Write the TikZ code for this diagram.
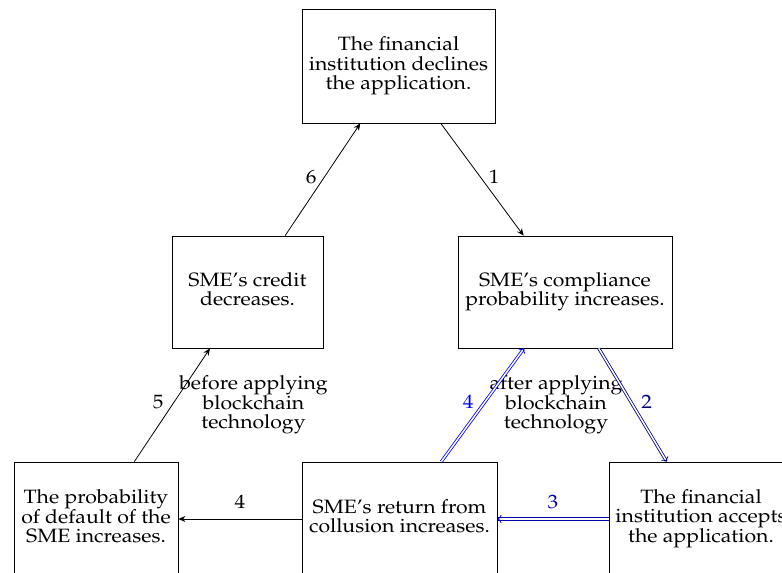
\documentclass[tikz,border=0pt]{standalone}
\usepackage[T1]{fontenc}
\usepackage{mathpazo}
\usepackage{graphicx}
\usetikzlibrary{arrows.meta}
\newcommand{\mytxt}[1]{\scalebox{1.1}[1]{\begin{tabular}{@{}c@{}}#1\end{tabular}}}
\begin{document}
\begin{tikzpicture}[x=1pt,y=-1pt,
  box/.style={draw, line width=0.8pt, inner sep=0pt, font=\fontsize{19.3}{19.3}\selectfont},
  note/.style={inner sep=0pt, font=\fontsize{19.3}{19.3}\selectfont},
  arr/.style={-{Stealth[length=7pt,width=6pt]}, line width=0.8pt},
  dbl/.style={double, double distance=1.5pt, line width=0.8pt, -{To[length=4pt,width=8pt]}},
  lab/.style={font=\fontsize{19.3}{19.3}\selectfont, inner sep=0pt},
]
\useasboundingbox (0,0) rectangle (782,573);
\clip (0,0) rectangle (782,573);
\node[box, minimum width=193pt, minimum height=114pt] (top) at (398.5,66) {\mytxt{The financial\\institution declines\\the application.}};
\node[box, minimum width=151pt, minimum height=112pt] (credit) at (247.5,292) {\mytxt{SME's credit\\decreases.}};
\node[box, minimum width=214pt, minimum height=112pt] (comp) at (565,292) {\mytxt{SME's compliance\\probability increases.}};
\node[box, minimum width=164pt, minimum height=114pt] (prob) at (96,519) {\mytxt{The probability\\of default of the\\SME increases.}};
\node[box, minimum width=195pt, minimum height=114pt] (ret) at (399.5,519) {\mytxt{SME's return from\\collusion increases.}};
\node[box, minimum width=184pt, minimum height=114pt] (acc) at (701,519) {\mytxt{The financial\\institution accepts\\the application.}};
\node[note] (before) at (253.5,405) {\mytxt{before applying\\blockchain\\technology}};
\node[note] (after) at (556,405) {\mytxt{after applying\\blockchain\\technology}};
\draw[arr] (top) -- node[lab, xshift=12pt] {\mytxt{1}} (comp);
\draw[arr] (credit) -- node[lab, xshift=-11.5pt] {\mytxt{6}} (top);
\draw[arr] (prob) -- node[lab, xshift=-14pt] {\mytxt{5}} (credit);
\draw[arr] (ret) -- node[lab, yshift=14pt] {\mytxt{4}} (prob);
\draw[dbl, blue!50!black] (comp) -- node[lab, xshift=14pt] {\mytxt{2}} (acc);
\draw[dbl, blue!70!black] (acc) -- node[lab, yshift=14pt] {\mytxt{3}} (ret);
\draw[dbl, blue] (ret) -- node[lab, xshift=-14.5pt] {\mytxt{4}} (comp);
\end{tikzpicture}
\end{document}
